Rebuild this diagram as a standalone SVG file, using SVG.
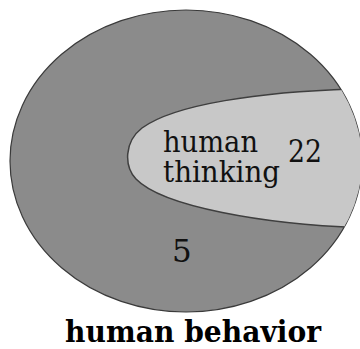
<svg xmlns="http://www.w3.org/2000/svg" width="360" height="349" viewBox="0 0 360 349">
  <style>
    .lbl { font-family: 'DejaVu Serif', serif; fill: #111; }
    .title { font-family: 'DejaVu Serif', serif; font-weight: bold; fill: #000; }
  </style>
  <defs>
    <clipPath id="outerClip">
      <ellipse cx="186" cy="161" rx="176" ry="151"/>
    </clipPath>
  </defs>
  <rect width="360" height="349" fill="#ffffff"/>
  <g id="human-behavior">
    <ellipse cx="186" cy="161" rx="176" ry="151" fill="#8b8b8b" stroke="#3a3a3a" stroke-width="1.2"/>
    <text class="lbl" x="172" y="262" font-size="31">5</text>
  </g>
  <g id="human-thinking">
    <path clip-path="url(#outerClip)" d="M 370,88 L 352,89 C 260,92 175,104 142,128 C 124,142 124,166 136,179 C 162,206 262,225 370,228 Z" fill="#c8c8c8" stroke="#3f3f3f" stroke-width="1.5"/>
    <text class="lbl" x="163" y="152" font-size="30" textLength="95" lengthAdjust="spacingAndGlyphs">human</text>
    <text class="lbl" x="163" y="182" font-size="30" textLength="117" lengthAdjust="spacingAndGlyphs">thinking</text>
    <text class="lbl" x="288" y="162" font-size="31" textLength="34" lengthAdjust="spacingAndGlyphs">22</text>
  </g>
  <g id="connectors"></g>
  <text class="title" x="65" y="342" font-size="29" textLength="256" lengthAdjust="spacingAndGlyphs">human behavior</text>
</svg>
